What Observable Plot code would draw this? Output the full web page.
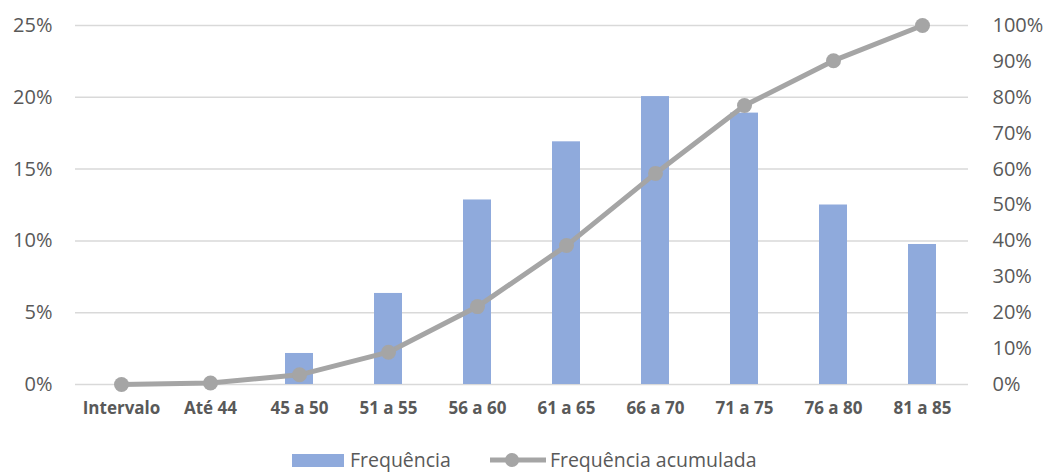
<!DOCTYPE html>
<html><head><meta charset="utf-8">
<script src="https://cdn.jsdelivr.net/npm/d3@7"></script>
<script src="https://cdn.jsdelivr.net/npm/@observablehq/plot@0.6"></script>
<style>
body{margin:0;background:#fff;font-family:"Open Sans",sans-serif;position:relative;width:1046px;height:474px;overflow:hidden}
#legend{position:absolute;left:292px;top:449px;height:22px;line-height:22px;display:flex;align-items:center;font-size:19.5px;color:#595959;white-space:nowrap}
.item{display:flex;align-items:center;}
</style></head><body>
<div id="chart"></div>
<div id="legend">
  <div class="item"><span style="display:inline-block;width:52px;height:13px;background:#8faadc;margin-right:6px"></span>Frequência</div>
  <div class="item" style="margin-left:38px"><svg width="58" height="16" style="margin-right:3px"><line x1="1" y1="8" x2="57" y2="8" stroke="#a5a5a5" stroke-width="5"/><circle cx="23" cy="8" r="7" fill="#a5a5a5"/></svg>Frequência acumulada</div>
</div>
<script>
const categories = ["Intervalo","Até 44","45 a 50","51 a 55","56 a 60","61 a 65","66 a 70","71 a 75","76 a 80","81 a 85"];
const frequencia = [0, 0.001, 0.0216, 0.0634, 0.1285, 0.169, 0.2005, 0.189, 0.125, 0.0975];
const acumulada = [0, 0.004, 0.027, 0.09, 0.217, 0.387, 0.588, 0.777, 0.902, 1.0];
const leftTicks = [0, 0.05, 0.10, 0.15, 0.20, 0.25];
const rightTicks = [0, 0.1, 0.2, 0.3, 0.4, 0.5, 0.6, 0.7, 0.8, 0.9, 1.0];

const data = categories.map((c, i) => ({cat: c, freq: frequencia[i], cum: acumulada[i]}));
const ratio = 0.25; // right axis (0-100%) mapped onto left axis (0-25%)

const chart = Plot.plot({
  width: 1046, height: 440,
  marginLeft: 75, marginRight: 78, marginTop: 25, marginBottom: 56,
  style: {fontFamily: "'Open Sans', sans-serif", color: "#595959", background: "#fff"},
  x: {domain: categories, paddingInner: 0.68, paddingOuter: 0.34, label: null},
  y: {domain: [0, 0.25], label: null},
  marks: [
    Plot.gridY(leftTicks, {stroke: "#d9d9d9", strokeOpacity: 1, strokeWidth: 1.5}),
    Plot.barY(data, {x: "cat", y: "freq", fill: "#8faadc"}),
    Plot.line(data, {x: "cat", y: d => d.cum * ratio, stroke: "#a5a5a5", strokeWidth: 5, curve: "linear"}),
    Plot.dot(data, {x: "cat", y: d => d.cum * ratio, r: 7.5, fill: "#a5a5a5"}),
    Plot.axisY({ticks: leftTicks, anchor: "left", tickSize: 0, tickPadding: 23, tickFormat: d => Math.round(d*100) + "%", fontSize: 20, label: null}),
    Plot.axisY({ticks: rightTicks.map(t => t * ratio), anchor: "right", tickSize: 0, tickPadding: 24, tickFormat: d => Math.round(d/ratio*100) + "%", fontSize: 20, label: null}),
    Plot.axisX({tickSize: 0, tickPadding: 17, fontSize: 17, fontWeight: "bold", label: null})
  ]
});
document.getElementById("chart").appendChild(chart);
</script>
</body></html>
